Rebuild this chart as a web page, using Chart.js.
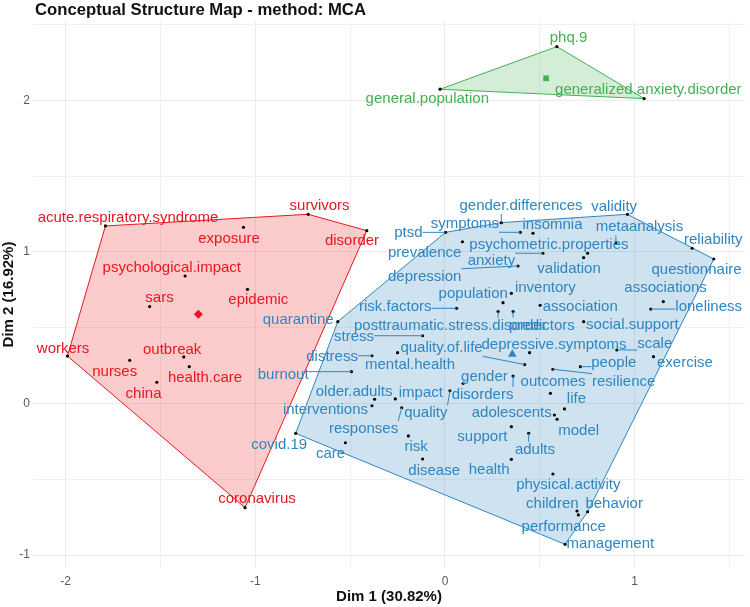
<!DOCTYPE html>
<html><head><meta charset="utf-8">
<script src="https://cdn.jsdelivr.net/npm/chart.js@4.4.1/dist/chart.umd.min.js"></script>
<style>html,body{margin:0;padding:0;background:#fff;}canvas{display:block;}</style>
</head><body>
<canvas id="c" width="750" height="607"></canvas>
<script>
// ---- data ----
const chartTitle = "Conceptual Structure Map - method: MCA";
const xAxisTitle = "Dim 1 (30.82%)";
const yAxisTitle = "Dim 2 (16.92%)";
const xTickLabels = [-2, -1, 0, 1];
const yTickLabels = [-1, 0, 1, 2];

const redTerms = ["acute.respiratory.syndrome","exposure","survivors","disorder","psychological.impact","epidemic","sars","workers","nurses","outbreak","health.care","china","coronavirus"];
const redX = [-1.790,-1.062,-0.721,-0.412,-1.370,-1.041,-1.557,-1.990,-1.662,-1.377,-1.348,-1.519,-1.054];
const redY = [1.171,1.162,1.248,1.140,0.841,0.753,0.639,0.313,0.285,0.307,0.243,0.140,-0.687];
const redLabelX = [-1.671,-1.138,-0.661,-0.490,-1.440,-0.984,-1.505,-2.013,-1.741,-1.438,-1.265,-1.589,-0.991];
const redLabelY = [1.226,1.083,1.303,1.072,0.896,0.683,0.694,0.360,0.206,0.353,0.166,0.063,-0.632];
const redCentroid = [-1.300, 0.588];

const greenTerms = ["phq.9","general.population","generalized.anxiety.disorder"];
const greenX = [0.590,-0.026,1.050];
const greenY = [2.354,2.073,2.011];
const greenLabelX = [0.651,-0.093,1.072];
const greenLabelY = [2.411,2.007,2.068];
const greenCentroid = [0.533, 2.145];

const blueTerms = ["ptsd","gender.differences","symptoms","insomnia","validity","metaanalysis","reliability","questionnaire","prevalence","psychometric.properties","validation","anxiety","depression","population","inventory","association","associations","loneliness","social.support","risk.factors","posttraumatic.stress.disorder","predictors","quarantine","stress","distress","mental.health","quality.of.life","depressive.symptoms","scale","exercise","people","resilience","outcomes","life","model","adolescents","gender","disorders","impact","older.adults","interventions","quality","responses","risk","disease","care","covid.19","burnout","support","adults","health","physical.activity","children","behavior","performance","management"];
const blueX = [0.003,0.297,0.397,0.464,0.962,0.901,1.303,1.417,0.092,0.752,0.731,0.516,0.385,0.306,0.350,0.502,1.151,1.085,0.731,0.061,0.280,0.359,-0.565,-0.118,-0.385,-0.250,0.420,0.446,0.906,1.099,0.714,0.569,0.556,0.630,0.591,0.577,0.096,0.359,-0.262,-0.371,-0.385,0.026,-0.228,-0.193,-0.118,-0.525,-0.787,-0.493,0.350,0.441,0.350,0.569,0.696,0.752,0.703,0.633];
const blueY = [1.129,1.193,1.129,1.123,1.248,1.061,1.024,0.953,1.067,0.991,0.962,0.991,0.907,0.665,0.727,0.648,0.672,0.623,0.540,0.628,0.606,0.606,0.540,0.447,0.315,0.335,0.257,0.335,0.353,0.309,0.243,0.226,0.067,-0.036,-0.104,-0.076,0.133,0.181,0.030,0.028,-0.015,0.084,-0.028,-0.214,-0.366,-0.259,-0.197,0.210,-0.153,-0.197,-0.368,-0.465,-0.709,-0.714,-0.735,-0.929];
const blueLabelX = [-0.193,0.401,0.105,0.567,0.892,1.025,1.414,1.326,-0.107,0.548,0.654,0.245,-0.107,0.149,0.529,0.713,1.163,1.390,0.988,-0.262,0.028,0.511,-0.774,-0.479,-0.595,-0.184,-0.018,0.575,1.106,1.265,0.890,0.942,0.570,0.693,0.705,0.352,0.208,0.198,-0.127,-0.479,-0.630,-0.101,-0.429,-0.152,-0.057,-0.603,-0.874,-0.853,0.197,0.474,0.233,0.650,0.566,0.892,0.626,0.872];
const blueLabelY = [1.123,1.303,1.182,1.177,1.298,1.162,1.078,0.881,0.995,1.046,0.885,0.940,0.836,0.720,0.760,0.639,0.760,0.635,0.518,0.635,0.513,0.513,0.551,0.437,0.309,0.254,0.364,0.390,0.392,0.269,0.269,0.144,0.144,0.028,-0.179,-0.065,0.177,0.056,0.071,0.074,-0.043,-0.065,-0.168,-0.289,-0.445,-0.335,-0.274,0.188,-0.223,-0.307,-0.439,-0.538,-0.663,-0.663,-0.813,-0.929];
const blueCentroid = [0.355, 0.325];

// ---- styling ----
const clusters = [
  {terms: redTerms, x: redX, y: redY, lx: redLabelX, ly: redLabelY, c: redCentroid, color: '#E8161E', fill: 'rgba(240,30,35,0.23)', marker: 'rectRot', mr: 4.5},
  {terms: blueTerms, x: blueX, y: blueY, lx: blueLabelX, ly: blueLabelY, c: blueCentroid, color: '#2F86C1', fill: 'rgba(50,132,190,0.24)', marker: 'triangle', mr: 5},
  {terms: greenTerms, x: greenX, y: greenY, lx: greenLabelX, ly: greenLabelY, c: greenCentroid, color: '#45B052', fill: 'rgba(70,180,85,0.24)', marker: 'rect', mr: 4}
];

function hullChains(xs, ys) {
  const pts = xs.map((v, i) => ({x: v, y: ys[i]})).sort((a, b) => a.x - b.x || a.y - b.y);
  const cross = (o, a, b) => (a.x - o.x) * (b.y - o.y) - (a.y - o.y) * (b.x - o.x);
  const lower = [];
  for (const p of pts) { while (lower.length >= 2 && cross(lower[lower.length-2], lower[lower.length-1], p) <= 0) lower.pop(); lower.push(p); }
  const upper = [];
  for (const p of pts.slice().reverse()) { while (upper.length >= 2 && cross(upper[upper.length-2], upper[upper.length-1], p) <= 0) upper.pop(); upper.push(p); }
  upper.reverse();
  return {lower, upper};
}

const datasets = [];
// centroids (drawn on top)
clusters.forEach(cl => datasets.push({
  data: [{x: cl.c[0], y: cl.c[1]}], pointStyle: cl.marker, pointRadius: cl.mr,
  backgroundColor: cl.color, borderColor: cl.color, borderWidth: 0, showLine: false
}));
// term points
clusters.forEach(cl => datasets.push({
  data: cl.x.map((v, i) => ({x: v, y: cl.y[i]})), pointRadius: 1.6,
  backgroundColor: '#000', borderColor: '#000', borderWidth: 0, showLine: false
}));
// hulls: upper chain filled to the lower chain
clusters.forEach(cl => {
  const h = hullChains(cl.x, cl.y);
  datasets.push({data: h.upper, showLine: true, pointRadius: 0, borderColor: cl.color, borderWidth: 1, backgroundColor: cl.fill, fill: '+1', tension: 0});
  datasets.push({data: h.lower, showLine: true, pointRadius: 0, borderColor: cl.color, borderWidth: 1, backgroundColor: cl.fill, fill: false, tension: 0});
});

const FONT = '"Liberation Sans", Arial, sans-serif';

const labelPlugin = {
  id: 'termLabels',
  afterDatasetsDraw(chart) {
    const {ctx, scales: {x, y}} = chart;
    ctx.save();
    ctx.font = '15px ' + FONT;
    ctx.textAlign = 'center';
    ctx.textBaseline = 'middle';
    clusters.forEach(cl => {
      cl.terms.forEach((t, i) => {
        const px = x.getPixelForValue(cl.x[i]), py = y.getPixelForValue(cl.y[i]);
        const lx = x.getPixelForValue(cl.lx[i]), ly = y.getPixelForValue(cl.ly[i]);
        const w = ctx.measureText(t).width, h = 16;
        const bx = Math.max(lx - w / 2, Math.min(px, lx + w / 2));
        const by = Math.max(ly - h / 2, Math.min(py, ly + h / 2));
        if (Math.hypot(px - bx, py - by) > 5.5) {
          ctx.strokeStyle = cl.color; ctx.lineWidth = 1;
          ctx.beginPath(); ctx.moveTo(bx, by); ctx.lineTo(px, py); ctx.stroke();
        }
      });
      ctx.fillStyle = cl.color;
      cl.terms.forEach((t, i) => {
        ctx.fillText(t, x.getPixelForValue(cl.lx[i]), y.getPixelForValue(cl.ly[i]));
      });
    });
    ctx.restore();
  }
};

const titlePlugin = {
  id: 'mapTitle',
  afterDraw(chart) {
    const {ctx, chartArea} = chart;
    ctx.save();
    ctx.font = 'bold 16.7px ' + FONT;
    ctx.fillStyle = '#111';
    ctx.textAlign = 'left';
    ctx.textBaseline = 'alphabetic';
    ctx.fillText(chartTitle, chartArea.left + 2, 14.5);
    ctx.restore();
  }
};

function halfSteps(lo, hi) { const a = []; for (let v = lo; v <= hi + 1e-9; v += 0.5) a.push({value: v}); return a; }
const gridColor = c => Number.isInteger(c.tick && c.tick.value) ? '#EBEBEB' : '#F1F1F1';

new Chart(document.getElementById('c'), {
  type: 'scatter',
  data: {datasets},
  plugins: [labelPlugin, titlePlugin],
  options: {
    responsive: false, animation: false, events: [],
    layout: {padding: {top: 21, right: 2, left: 0, bottom: 0}},
    plugins: {legend: {display: false}, tooltip: {enabled: false}, title: {display: false}},
    scales: {
      x: {
        type: 'linear', min: -2.1717, max: 1.5816,
        afterBuildTicks: s => { s.ticks = halfSteps(-2, 1.5); },
        afterFit: s => { s.height = 39; },
        border: {display: false},
        grid: {color: gridColor, lineWidth: 1, drawTicks: false},
        ticks: {padding: 6, color: '#5A5A5A', font: {family: FONT, size: 12}, maxRotation: 0, autoSkip: false,
          callback: v => xTickLabels.includes(v) ? String(v) : ''},
        title: {display: true, text: xAxisTitle, color: '#111', font: {family: FONT, size: 15, weight: 'bold'}, padding: {top: 0, bottom: 1}}
      },
      y: {
        type: 'linear', min: -1.0851, max: 2.523,
        afterBuildTicks: s => { s.ticks = halfSteps(-1, 2.5); },
        afterFit: s => { s.width = 33; },
        border: {display: false},
        grid: {color: gridColor, lineWidth: 1, drawTicks: false},
        ticks: {padding: 3, color: '#5A5A5A', font: {family: FONT, size: 12}, autoSkip: false,
          callback: v => yTickLabels.includes(v) ? String(v) : ''},
        title: {display: true, text: yAxisTitle, color: '#111', font: {family: FONT, size: 15, weight: 'bold'}, padding: {top: 0, bottom: 0}}
      }
    }
  }
});
</script>
</body></html>
